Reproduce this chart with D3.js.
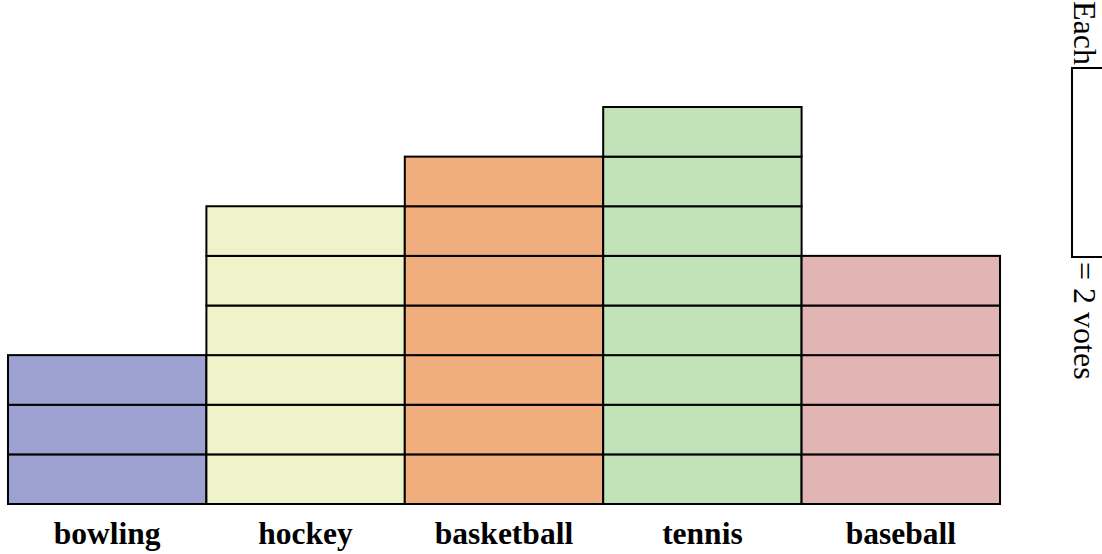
<!DOCTYPE html>
<html>
<head>
<meta charset="utf-8">
<script src="https://cdn.jsdelivr.net/npm/d3@7/dist/d3.min.js"></script>
<style>
  body { margin: 0; background: #fff; }
  svg { display: block; }
  text { font-family: 'Liberation Serif', 'Times New Roman', Times, 'DejaVu Serif', serif; }
</style>
</head>
<body>
<svg id="chart" width="1102" height="554"></svg>
<script>
// sports poll, each block = 2 votes
const categories = ['bowling', 'hockey', 'basketball', 'tennis', 'baseball'];
const votes = [6, 12, 14, 16, 10];
const votesPerBlock = 2;
const colors = ['#9ea2d2', '#eef3c9', '#f0ad7e', '#c2e2b8', '#e2b5b5'];

const svg = d3.select('#chart');

const x = d3.scaleBand().domain(categories).range([8, 1000]).padding(0);
const y = d3.scaleLinear().domain([0, 16]).range([504, 107]);

// one rect per block
const blocks = [];
categories.forEach((c, i) => {
  for (let v = 0; v < votes[i]; v += votesPerBlock) {
    blocks.push({ cat: c, lo: v, hi: v + votesPerBlock, color: colors[i] });
  }
});

svg.append('g')
  .selectAll('rect')
  .data(blocks)
  .enter()
  .append('rect')
  .attr('x', (d) => x(d.cat))
  .attr('y', (d) => y(d.hi))
  .attr('width', x.bandwidth())
  .attr('height', (d) => y(d.lo) - y(d.hi))
  .attr('fill', (d) => d.color)
  .attr('stroke', '#000')
  .attr('stroke-width', 2);

svg.append('g')
  .selectAll('text')
  .data(categories)
  .enter()
  .append('text')
  .attr('x', (d) => x(d) + x.bandwidth() / 2)
  .attr('y', 544)
  .attr('text-anchor', 'middle')
  .attr('font-weight', 'bold')
  .attr('font-size', 31.5)
  .attr('fill', '#000')
  .text((d) => d);

// legend, turned on its side
const legend = svg.append('g').attr('transform', 'translate(1122, 0) rotate(90)');

legend.append('rect')
  .attr('x', 68)
  .attr('y', 0)
  .attr('width', 189)
  .attr('height', 50)
  .attr('fill', '#fff')
  .attr('stroke', '#000')
  .attr('stroke-width', 2);

legend.append('text')
  .attr('x', 65)
  .attr('y', 48)
  .attr('text-anchor', 'end')
  .attr('font-size', 32)
  .text('Each');

legend.append('text')
  .attr('x', 262)
  .attr('y', 48)
  .attr('font-size', 32)
  .text(`= ${votesPerBlock} votes`);
</script>
</body>
</html>
